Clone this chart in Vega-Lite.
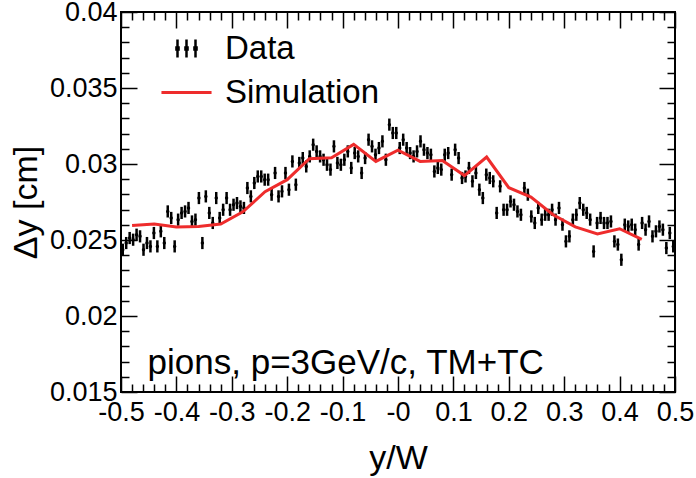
{
  "$schema": "https://vega.github.io/schema/vega-lite/v6.json",
  "width": 554,
  "height": 380,
  "autosize": {"type": "none"},
  "padding": {"left": 121, "top": 12, "right": 21, "bottom": 86},
  "background": "white",
  "config": {
    "font": "Liberation Sans",
    "view": {"stroke": "black", "strokeWidth": 2}
  },
  "datasets": {
    "data": [
      {"x": -0.496875, "y": 0.02436, "e": 0.0004},
      {"x": -0.490625, "y": 0.02480, "e": 0.0004},
      {"x": -0.484375, "y": 0.02513, "e": 0.0004},
      {"x": -0.478125, "y": 0.02502, "e": 0.0004},
      {"x": -0.471875, "y": 0.02535, "e": 0.0004},
      {"x": -0.465625, "y": 0.02524, "e": 0.0004},
      {"x": -0.459375, "y": 0.02436, "e": 0.0004},
      {"x": -0.453125, "y": 0.02480, "e": 0.0004},
      {"x": -0.446875, "y": 0.02458, "e": 0.0004},
      {"x": -0.440625, "y": 0.02546, "e": 0.0004},
      {"x": -0.434375, "y": 0.02458, "e": 0.0004},
      {"x": -0.428125, "y": 0.02557, "e": 0.0004},
      {"x": -0.421875, "y": 0.02480, "e": 0.0004},
      {"x": -0.415625, "y": 0.02688, "e": 0.0004},
      {"x": -0.409375, "y": 0.02645, "e": 0.0004},
      {"x": -0.403125, "y": 0.02458, "e": 0.0004},
      {"x": -0.396875, "y": 0.02634, "e": 0.0004},
      {"x": -0.390625, "y": 0.02678, "e": 0.0004},
      {"x": -0.384375, "y": 0.02688, "e": 0.0004},
      {"x": -0.378125, "y": 0.02711, "e": 0.0004},
      {"x": -0.371875, "y": 0.02622, "e": 0.0004},
      {"x": -0.365625, "y": 0.02634, "e": 0.0004},
      {"x": -0.359375, "y": 0.02776, "e": 0.0004},
      {"x": -0.353125, "y": 0.02480, "e": 0.0004},
      {"x": -0.346875, "y": 0.02787, "e": 0.0004},
      {"x": -0.340625, "y": 0.02678, "e": 0.0004},
      {"x": -0.334375, "y": 0.02612, "e": 0.0004},
      {"x": -0.328125, "y": 0.02776, "e": 0.0004},
      {"x": -0.321875, "y": 0.02645, "e": 0.0004},
      {"x": -0.315625, "y": 0.02699, "e": 0.0004},
      {"x": -0.309375, "y": 0.02776, "e": 0.0004},
      {"x": -0.303125, "y": 0.02699, "e": 0.0004},
      {"x": -0.296875, "y": 0.02732, "e": 0.0004},
      {"x": -0.290625, "y": 0.02743, "e": 0.0004},
      {"x": -0.284375, "y": 0.02721, "e": 0.0004},
      {"x": -0.278125, "y": 0.02711, "e": 0.0004},
      {"x": -0.271875, "y": 0.02842, "e": 0.0004},
      {"x": -0.265625, "y": 0.02787, "e": 0.0004},
      {"x": -0.259375, "y": 0.02875, "e": 0.0004},
      {"x": -0.253125, "y": 0.02918, "e": 0.0004},
      {"x": -0.246875, "y": 0.02918, "e": 0.0004},
      {"x": -0.240625, "y": 0.02897, "e": 0.0004},
      {"x": -0.234375, "y": 0.02897, "e": 0.0004},
      {"x": -0.228125, "y": 0.02798, "e": 0.0004},
      {"x": -0.221875, "y": 0.02941, "e": 0.0004},
      {"x": -0.215625, "y": 0.02787, "e": 0.0004},
      {"x": -0.209375, "y": 0.02820, "e": 0.0004},
      {"x": -0.203125, "y": 0.02941, "e": 0.0004},
      {"x": -0.196875, "y": 0.02831, "e": 0.0004},
      {"x": -0.190625, "y": 0.03017, "e": 0.0004},
      {"x": -0.184375, "y": 0.02864, "e": 0.0004},
      {"x": -0.178125, "y": 0.03007, "e": 0.0004},
      {"x": -0.171875, "y": 0.03039, "e": 0.0004},
      {"x": -0.165625, "y": 0.02984, "e": 0.0004},
      {"x": -0.159375, "y": 0.03050, "e": 0.0004},
      {"x": -0.153125, "y": 0.03127, "e": 0.0004},
      {"x": -0.146875, "y": 0.03083, "e": 0.0004},
      {"x": -0.140625, "y": 0.03050, "e": 0.0004},
      {"x": -0.134375, "y": 0.03028, "e": 0.0004},
      {"x": -0.128125, "y": 0.02995, "e": 0.0004},
      {"x": -0.121875, "y": 0.02963, "e": 0.0004},
      {"x": -0.115625, "y": 0.03116, "e": 0.0004},
      {"x": -0.109375, "y": 0.03007, "e": 0.0004},
      {"x": -0.103125, "y": 0.02995, "e": 0.0004},
      {"x": -0.096875, "y": 0.03028, "e": 0.0004},
      {"x": -0.090625, "y": 0.03083, "e": 0.0004},
      {"x": -0.084375, "y": 0.02974, "e": 0.0004},
      {"x": -0.078125, "y": 0.03072, "e": 0.0004},
      {"x": -0.071875, "y": 0.03050, "e": 0.0004},
      {"x": -0.065625, "y": 0.02941, "e": 0.0004},
      {"x": -0.059375, "y": 0.03039, "e": 0.0004},
      {"x": -0.053125, "y": 0.03160, "e": 0.0004},
      {"x": -0.046875, "y": 0.03116, "e": 0.0004},
      {"x": -0.040625, "y": 0.03061, "e": 0.0004},
      {"x": -0.034375, "y": 0.03105, "e": 0.0004},
      {"x": -0.028125, "y": 0.03149, "e": 0.0004},
      {"x": -0.021875, "y": 0.03028, "e": 0.0004},
      {"x": -0.015625, "y": 0.03259, "e": 0.0004},
      {"x": -0.009375, "y": 0.03204, "e": 0.0004},
      {"x": -0.003125, "y": 0.03204, "e": 0.0004},
      {"x": 0.003125, "y": 0.03105, "e": 0.0004},
      {"x": 0.009375, "y": 0.03160, "e": 0.0004},
      {"x": 0.015625, "y": 0.03105, "e": 0.0004},
      {"x": 0.021875, "y": 0.03072, "e": 0.0004},
      {"x": 0.028125, "y": 0.03050, "e": 0.0004},
      {"x": 0.034375, "y": 0.03083, "e": 0.0004},
      {"x": 0.040625, "y": 0.03149, "e": 0.0004},
      {"x": 0.046875, "y": 0.03094, "e": 0.0004},
      {"x": 0.053125, "y": 0.03072, "e": 0.0004},
      {"x": 0.059375, "y": 0.03061, "e": 0.0004},
      {"x": 0.065625, "y": 0.02951, "e": 0.0004},
      {"x": 0.071875, "y": 0.02974, "e": 0.0004},
      {"x": 0.078125, "y": 0.02963, "e": 0.0004},
      {"x": 0.084375, "y": 0.03061, "e": 0.0004},
      {"x": 0.090625, "y": 0.03072, "e": 0.0004},
      {"x": 0.096875, "y": 0.02930, "e": 0.0004},
      {"x": 0.103125, "y": 0.03094, "e": 0.0004},
      {"x": 0.109375, "y": 0.03039, "e": 0.0004},
      {"x": 0.115625, "y": 0.02908, "e": 0.0004},
      {"x": 0.121875, "y": 0.02918, "e": 0.0004},
      {"x": 0.128125, "y": 0.02974, "e": 0.0004},
      {"x": 0.134375, "y": 0.02886, "e": 0.0004},
      {"x": 0.140625, "y": 0.02941, "e": 0.0004},
      {"x": 0.146875, "y": 0.02831, "e": 0.0004},
      {"x": 0.153125, "y": 0.02776, "e": 0.0004},
      {"x": 0.159375, "y": 0.02930, "e": 0.0004},
      {"x": 0.165625, "y": 0.02908, "e": 0.0004},
      {"x": 0.171875, "y": 0.02886, "e": 0.0004},
      {"x": 0.178125, "y": 0.02678, "e": 0.0004},
      {"x": 0.184375, "y": 0.02853, "e": 0.0004},
      {"x": 0.190625, "y": 0.02699, "e": 0.0004},
      {"x": 0.196875, "y": 0.02699, "e": 0.0004},
      {"x": 0.203125, "y": 0.02754, "e": 0.0004},
      {"x": 0.209375, "y": 0.02732, "e": 0.0004},
      {"x": 0.215625, "y": 0.02688, "e": 0.0004},
      {"x": 0.221875, "y": 0.02666, "e": 0.0004},
      {"x": 0.228125, "y": 0.02842, "e": 0.0004},
      {"x": 0.234375, "y": 0.02798, "e": 0.0004},
      {"x": 0.240625, "y": 0.02655, "e": 0.0004},
      {"x": 0.246875, "y": 0.02612, "e": 0.0004},
      {"x": 0.253125, "y": 0.02711, "e": 0.0004},
      {"x": 0.259375, "y": 0.02634, "e": 0.0004},
      {"x": 0.265625, "y": 0.02666, "e": 0.0004},
      {"x": 0.271875, "y": 0.02666, "e": 0.0004},
      {"x": 0.278125, "y": 0.02699, "e": 0.0004},
      {"x": 0.284375, "y": 0.02634, "e": 0.0004},
      {"x": 0.290625, "y": 0.02711, "e": 0.0004},
      {"x": 0.296875, "y": 0.02601, "e": 0.0004},
      {"x": 0.303125, "y": 0.02491, "e": 0.0004},
      {"x": 0.309375, "y": 0.02524, "e": 0.0004},
      {"x": 0.315625, "y": 0.02634, "e": 0.0004},
      {"x": 0.321875, "y": 0.02666, "e": 0.0004},
      {"x": 0.328125, "y": 0.02743, "e": 0.0004},
      {"x": 0.334375, "y": 0.02699, "e": 0.0004},
      {"x": 0.340625, "y": 0.02678, "e": 0.0004},
      {"x": 0.346875, "y": 0.02634, "e": 0.0004},
      {"x": 0.353125, "y": 0.02425, "e": 0.0004},
      {"x": 0.359375, "y": 0.02612, "e": 0.0004},
      {"x": 0.365625, "y": 0.02645, "e": 0.0004},
      {"x": 0.371875, "y": 0.02612, "e": 0.0004},
      {"x": 0.378125, "y": 0.02612, "e": 0.0004},
      {"x": 0.384375, "y": 0.02622, "e": 0.0004},
      {"x": 0.390625, "y": 0.02491, "e": 0.0004},
      {"x": 0.396875, "y": 0.02470, "e": 0.0004},
      {"x": 0.403125, "y": 0.02370, "e": 0.0004},
      {"x": 0.409375, "y": 0.02601, "e": 0.0004},
      {"x": 0.415625, "y": 0.02589, "e": 0.0004},
      {"x": 0.421875, "y": 0.02601, "e": 0.0004},
      {"x": 0.428125, "y": 0.02568, "e": 0.0004},
      {"x": 0.434375, "y": 0.02470, "e": 0.0004},
      {"x": 0.440625, "y": 0.02612, "e": 0.0004},
      {"x": 0.446875, "y": 0.02568, "e": 0.0004},
      {"x": 0.453125, "y": 0.02622, "e": 0.0004},
      {"x": 0.459375, "y": 0.02524, "e": 0.0004},
      {"x": 0.465625, "y": 0.02557, "e": 0.0004},
      {"x": 0.471875, "y": 0.02589, "e": 0.0004},
      {"x": 0.478125, "y": 0.02568, "e": 0.0004},
      {"x": 0.484375, "y": 0.02447, "e": 0.0004},
      {"x": 0.490625, "y": 0.02546, "e": 0.0004},
      {"x": 0.496875, "y": 0.02458, "e": 0.0004}
    ],
    "sim": [
      {"x": -0.48, "y": 0.02596},
      {"x": -0.44, "y": 0.02605},
      {"x": -0.40, "y": 0.02586},
      {"x": -0.36, "y": 0.02589},
      {"x": -0.32, "y": 0.02605},
      {"x": -0.28, "y": 0.02685},
      {"x": -0.24, "y": 0.02818},
      {"x": -0.20, "y": 0.02897},
      {"x": -0.16, "y": 0.03035},
      {"x": -0.12, "y": 0.03041},
      {"x": -0.08, "y": 0.03129},
      {"x": -0.04, "y": 0.03017},
      {"x": 0.00, "y": 0.03091},
      {"x": 0.04, "y": 0.03017},
      {"x": 0.08, "y": 0.03023},
      {"x": 0.12, "y": 0.02924},
      {"x": 0.16, "y": 0.03046},
      {"x": 0.20, "y": 0.02844},
      {"x": 0.24, "y": 0.02782},
      {"x": 0.28, "y": 0.02666},
      {"x": 0.32, "y": 0.02586},
      {"x": 0.36, "y": 0.02540},
      {"x": 0.40, "y": 0.02574},
      {"x": 0.44, "y": 0.02504}
    ]
  },
  "layer": [
    {
      "data": {"name": "data"},
      "mark": {"type": "errorbar", "thickness": 2.5, "ticks": false},
      "encoding": {
        "x": {
          "field": "x", "type": "quantitative",
          "scale": {"domain": [-0.5, 0.5], "nice": false, "zero": false},
          "axis": {
            "orient": "bottom",
            "values": [-0.5,-0.48,-0.46,-0.44,-0.42,-0.4,-0.38,-0.36,-0.34,-0.32,-0.3,-0.28,-0.26,-0.24,-0.22,-0.2,-0.18,-0.16,-0.14,-0.12,-0.1,-0.08,-0.06,-0.04,-0.02,0,0.02,0.04,0.06,0.08,0.1,0.12,0.14,0.16,0.18,0.2,0.22,0.24,0.26,0.28,0.3,0.32,0.34,0.36,0.38,0.4,0.42,0.44,0.46,0.48,0.5],
            "labelExpr": "abs(round(datum.value*50)) % 5 == 0 ? (datum.value == 0 ? '-0' : (datum.value < 0 ? '-' + format(-datum.value, '.1f') : format(datum.value, '.1f'))) : ''",
            "labelFontSize": 27, "labelColor": "black", "labelFont": "Liberation Sans",
            "labelPadding": 23, "labelFlush": false, "labelOverlap": false,
            "tickColor": "black", "tickWidth": 1.5,
            "tickSize": {"condition": {"test": "abs(round(datum.value*50)) % 5 == 0", "value": -16}, "value": -8},
            "domain": false, "grid": false,
            "title": "y/W", "titleFontSize": 34, "titleFont": "Liberation Sans", "titleFontWeight": "normal", "titleColor": "black", "titlePadding": 8
          }
        },
        "y": {
          "field": "y", "type": "quantitative",
          "scale": {"domain": [0.015, 0.04], "nice": false, "zero": false},
          "axis": {
            "orient": "left",
            "values": [0.015,0.016,0.017,0.018,0.019,0.02,0.021,0.022,0.023,0.024,0.025,0.026,0.027,0.028,0.029,0.03,0.031,0.032,0.033,0.034,0.035,0.036,0.037,0.038,0.039,0.04],
            "labelExpr": "abs(round(datum.value*1000)) % 5 == 0 ? format(datum.value, '~g') : ''",
            "labelFontSize": 27, "labelColor": "black", "labelFont": "Liberation Sans",
            "labelPadding": 20, "labelFlush": false, "labelOverlap": false,
            "tickColor": "black", "tickWidth": 1.5,
            "tickSize": {"condition": {"test": "abs(round(datum.value*1000)) % 5 == 0", "value": -16}, "value": -8},
            "domain": false, "grid": false,
            "title": "Δy [cm]", "titleFontSize": 34, "titleFont": "Liberation Sans", "titleFontWeight": "normal", "titleColor": "black", "titlePadding": 6
          }
        },
        "yError": {"field": "e"},
        "color": {
          "datum": "Data", "type": "nominal",
          "scale": {"domain": ["Data", "Simulation"], "range": ["black", "#ee2c2c"]},
          "legend": {
            "orient": "none", "legendX": 49, "legendY": 20, "title": null, "padding": 0,
            "labelFontSize": 33, "labelFont": "Liberation Sans", "labelColor": "black",
            "labelOffset": 22, "symbolSize": 900, "rowPadding": 10, "labelLimit": 0,
            "encode": {
              "symbols": {
                "update": {
                  "shape": {"signal": "datum.value === 'Data' ? 'M-0.6,-0.6V0.6M0,-0.6V0.6M0.6,-0.6V0.6M-0.67,-0.07h0.14v0.14h-0.14zM-0.07,-0.07h0.14v0.14h-0.14zM0.53,-0.07h0.14v0.14h-0.14z' : 'M-1.67,0H1.67'"},
                  "stroke": {"signal": "datum.value === 'Data' ? 'black' : '#ee2c2c'"},
                  "strokeWidth": {"signal": "datum.value === 'Data' ? 2.5 : 3"},
                  "fill": {"value": "black"},
                  "opacity": {"value": 1}
                }
              }
            }
          }
        }
      }
    },
    {
      "data": {"name": "data"},
      "mark": {"type": "point", "filled": true, "size": 12, "opacity": 1},
      "encoding": {
        "x": {"field": "x", "type": "quantitative", "axis": null},
        "y": {"field": "y", "type": "quantitative", "axis": null},
        "color": {"datum": "Data", "type": "nominal"}
      }
    },
    {
      "data": {"name": "sim"},
      "mark": {"type": "line", "strokeWidth": 3},
      "encoding": {
        "x": {
          "field": "x", "type": "quantitative",
          "axis": {
            "orient": "top", "labels": false, "title": null, "domain": false, "grid": false,
            "values": [-0.5,-0.48,-0.46,-0.44,-0.42,-0.4,-0.38,-0.36,-0.34,-0.32,-0.3,-0.28,-0.26,-0.24,-0.22,-0.2,-0.18,-0.16,-0.14,-0.12,-0.1,-0.08,-0.06,-0.04,-0.02,0,0.02,0.04,0.06,0.08,0.1,0.12,0.14,0.16,0.18,0.2,0.22,0.24,0.26,0.28,0.3,0.32,0.34,0.36,0.38,0.4,0.42,0.44,0.46,0.48,0.5],
            "tickColor": "black", "tickWidth": 1.5,
            "tickSize": {"condition": {"test": "abs(round(datum.value*50)) % 5 == 0", "value": -16}, "value": -8}
          }
        },
        "y": {
          "field": "y", "type": "quantitative",
          "axis": {
            "orient": "right", "labels": false, "title": null, "domain": false, "grid": false,
            "values": [0.015,0.016,0.017,0.018,0.019,0.02,0.021,0.022,0.023,0.024,0.025,0.026,0.027,0.028,0.029,0.03,0.031,0.032,0.033,0.034,0.035,0.036,0.037,0.038,0.039,0.04],
            "tickColor": "black", "tickWidth": 1.5,
            "tickSize": {"condition": {"test": "abs(round(datum.value*1000)) % 5 == 0", "value": -16}, "value": -8}
          }
        },
        "color": {"datum": "Simulation", "type": "nominal"}
      }
    },
    {
      "data": {"values": [{"label": "pions, p=3GeV/c, TM+TC"}]},
      "mark": {"type": "text", "align": "left", "baseline": "alphabetic", "fontSize": 35, "font": "Liberation Sans", "color": "black"},
      "encoding": {
        "x": {"datum": -0.452, "type": "quantitative", "axis": null},
        "y": {"datum": 0.0162, "type": "quantitative", "axis": null},
        "text": {"field": "label"}
      }
    }
  ],
  "resolve": {"axis": {"x": "independent", "y": "independent"}}
}
